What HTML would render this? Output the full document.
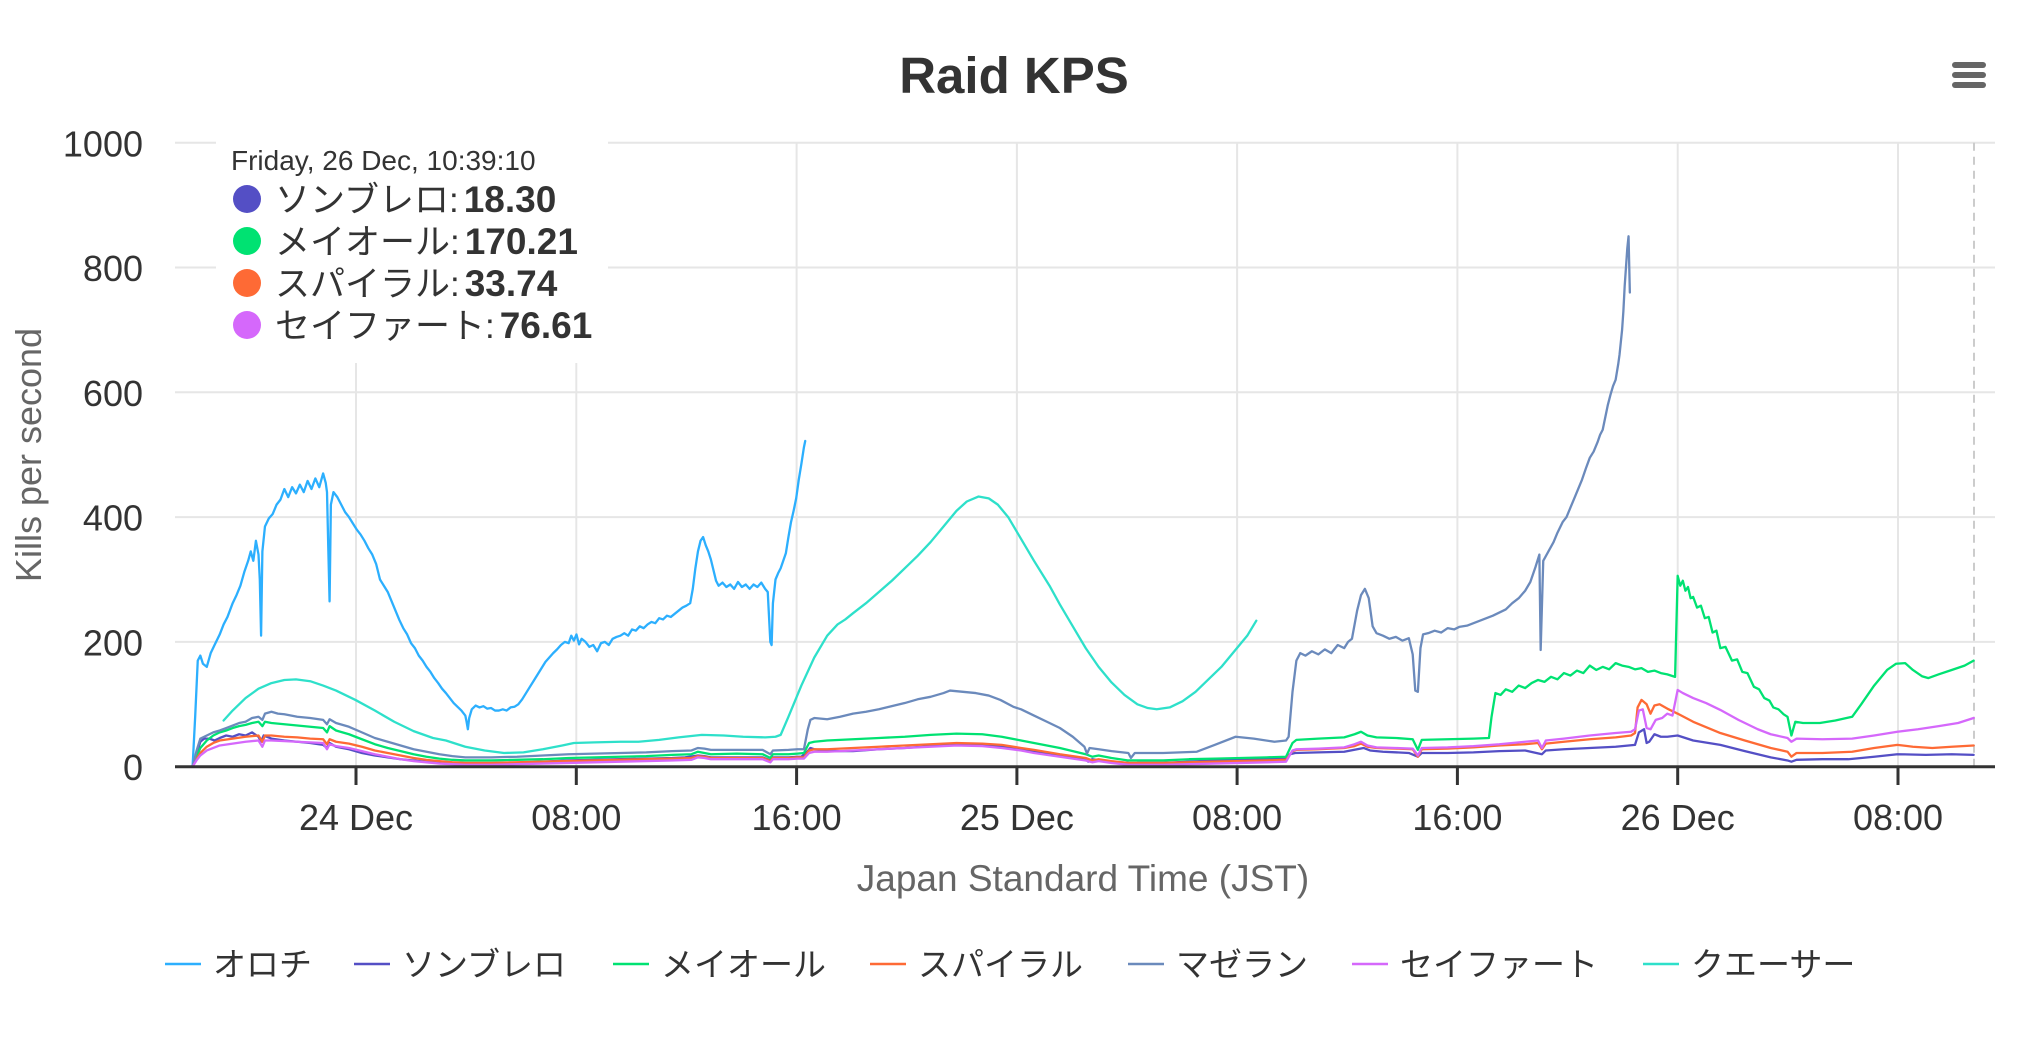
<!DOCTYPE html>
<html>
<head>
<meta charset="utf-8">
<style>
html,body{margin:0;padding:0;background:#fff;}
svg{display:block;font-family:"Liberation Sans","Noto Sans CJK JP",sans-serif;}
</style>
</head>
<body>
<svg width="2028" height="1037" viewBox="0 0 2028 1037" xmlns="http://www.w3.org/2000/svg">
<rect x="0" y="0" width="2028" height="1037" fill="#fff"/>

<!-- Title -->
<text x="1014" y="93" text-anchor="middle" font-size="51" font-weight="bold" fill="#333">Raid KPS</text>

<!-- Hamburger -->
<g stroke="#666" stroke-width="6" stroke-linecap="round">
<line x1="1955" y1="65" x2="1983" y2="65"/>
<line x1="1955" y1="75" x2="1983" y2="75"/>
<line x1="1955" y1="85" x2="1983" y2="85"/>
</g>

<!-- Horizontal gridlines -->
<g stroke="#e6e6e6" stroke-width="2">
<line x1="175" y1="142.7" x2="1995" y2="142.7"/>
<line x1="175" y1="267.5" x2="1995" y2="267.5"/>
<line x1="175" y1="392.3" x2="1995" y2="392.3"/>
<line x1="175" y1="517.1" x2="1995" y2="517.1"/>
<line x1="175" y1="641.9" x2="1995" y2="641.9"/>
<!-- Vertical gridlines -->
<line x1="356" y1="142.7" x2="356" y2="766.7"/>
<line x1="576.3" y1="142.7" x2="576.3" y2="766.7"/>
<line x1="796.6" y1="142.7" x2="796.6" y2="766.7"/>
<line x1="1016.9" y1="142.7" x2="1016.9" y2="766.7"/>
<line x1="1237.1" y1="142.7" x2="1237.1" y2="766.7"/>
<line x1="1457.4" y1="142.7" x2="1457.4" y2="766.7"/>
<line x1="1677.7" y1="142.7" x2="1677.7" y2="766.7"/>
<line x1="1898" y1="142.7" x2="1898" y2="766.7"/>
</g>

<!-- Crosshair -->
<line x1="1974" y1="142.7" x2="1974" y2="766.7" stroke="#cccccc" stroke-width="2" stroke-dasharray="8,6"/>

<!-- Y labels -->
<g font-size="36" fill="#333" text-anchor="end">
<text x="143" y="156.5">1000</text>
<text x="143" y="281">800</text>
<text x="143" y="406">600</text>
<text x="143" y="530.5">400</text>
<text x="143" y="655.5">200</text>
<text x="143" y="780">0</text>
</g>

<!-- Y axis title -->
<text transform="translate(41,455) rotate(-90)" text-anchor="middle" font-size="36" fill="#666">Kills per second</text>

<!-- Series -->
<g transform="matrix(1.2925 0 0 -0.624 0 766.7)" fill="none" stroke-linejoin="round" stroke-linecap="round">
<!-- オロチ -->
<polyline vector-effect="non-scaling-stroke" stroke="#2caffe" stroke-width="2.3" points="149,0 151,80 153,170 155,178 157,165 160,160 163,182 166,195 170,212 173,228 176,240 180,262 183,275 186,290 189,312 192,330 194,345 196,330 198,362 200,340 201,300 202,210 203,345 205,385 208,398 211,405 214,420 217,428 220,445 223,432 226,448 229,438 232,452 235,440 238,458 241,445 244,462 247,448 250,470 252,455 253,440 254,350 255,265 256,420 258,440 261,432 264,420 267,408 270,400 273,390 276,380 279,372 282,362 285,350 288,340 291,325 294,300 297,290 300,280 303,265 306,250 309,235 312,222 315,212 318,198 321,190 324,178 327,170 330,160 333,152 336,142 339,134 342,125 345,118 348,110 351,102 354,96 357,90 360,82 361,72 362,60 363,78 365,92 368,98 371,95 374,97 377,93 380,94 383,90 386,90 389,92 392,90 395,95 398,96 401,100 404,108 407,118 410,128 413,138 416,148 419,158 422,168 425,175 428,182 431,188 434,195 437,200 440,198 442,210 444,202 446,212 448,196 450,205 453,200 456,192 459,195 462,185 465,198 468,200 471,195 474,205 477,208 480,210 483,214 486,210 489,220 492,218 495,225 498,222 501,228 504,232 507,230 510,238 513,236 516,242 519,240 522,245 525,250 528,255 531,258 534,262 536,285 538,318 540,345 542,362 544,368 546,355 548,345 550,332 552,315 554,298 556,290 559,295 562,288 565,292 568,285 571,296 574,288 577,292 580,285 583,292 586,288 589,295 592,285 594,280 595,240 596,200 597,195 598,262 600,300 602,310 604,318 606,330 608,342 610,368 612,392 614,410 616,430 618,460 620,485 622,512 623,522"/>
<!-- ソンブレロ -->
<polyline vector-effect="non-scaling-stroke" stroke="#544fc5" stroke-width="2.3" points="149,0 152,20 155,40 158,45 162,45 166,42 170,46 175,50 180,48 185,52 190,50 195,55 200,48 202,40 204,50 210,45 220,42 230,40 240,38 250,35 253,30 255,38 260,32 270,28 280,22 290,18 300,15 310,12 320,10 330,8 340,6 350,5 360,5 380,5 400,6 420,8 440,10 460,11 480,12 500,13 520,14 530,15 540,18 545,17 550,15 570,15 590,15 596,10 598,15 610,15 617,16 620,16 625,25 627,30 630,28 640,25 660,25 680,28 700,30 720,33 740,35 760,34 775,32 790,27 800,24 820,18 840,12 842,8 845,12 860,8 873,6 875,3 880,6 900,6 920,8 940,10 960,12 980,12 995,13 998,20 1002,22 1020,23 1040,24 1050,28 1055,30 1060,26 1070,24 1090,22 1097,16 1100,22 1120,22 1140,23 1160,25 1180,26 1193,20 1196,26 1210,28 1230,30 1250,32 1260,34 1265,35 1268,55 1272,60 1274,38 1276,40 1280,52 1285,48 1290,48 1298,50 1310,42 1331,35 1350,25 1370,15 1383,10 1386,8 1390,11 1410,12 1430,12 1450,16 1468,20 1490,19 1510,20 1527,19"/>
<!-- メイオール -->
<polyline vector-effect="non-scaling-stroke" stroke="#00e272" stroke-width="2.3" points="149,0 152,15 155,30 160,42 165,50 170,55 175,58 180,62 185,65 190,67 195,70 200,72 203,65 205,72 210,70 220,68 230,66 240,64 250,62 253,55 255,65 260,58 270,52 280,44 290,36 300,30 310,25 320,20 330,16 340,13 350,11 360,10 380,10 400,11 420,12 440,14 460,15 480,16 500,17 520,19 535,20 540,24 545,22 550,20 570,21 590,20 596,14 598,20 610,20 617,21 622,22 626,38 630,40 640,42 660,44 680,46 700,48 720,51 740,53 760,52 775,48 790,42 800,38 820,30 840,20 845,16 850,18 860,14 873,10 880,10 900,10 920,12 940,13 960,14 980,15 995,16 1000,38 1003,43 1020,45 1040,47 1048,52 1053,56 1058,50 1065,47 1080,46 1093,44 1097,27 1100,43 1120,44 1140,45 1152,46 1154,80 1157,118 1161,115 1165,124 1170,120 1175,130 1180,126 1185,134 1190,139 1195,136 1200,144 1205,140 1210,150 1215,146 1220,154 1225,150 1230,162 1235,155 1240,160 1245,156 1250,166 1255,162 1260,160 1265,156 1270,158 1275,152 1280,154 1285,150 1290,148 1296,144 1298,306 1300,290 1302,298 1304,282 1306,288 1308,270 1310,272 1313,255 1316,258 1319,238 1322,240 1325,215 1328,218 1331,190 1335,192 1340,170 1344,172 1348,152 1352,150 1357,128 1361,124 1365,110 1369,106 1372,95 1376,92 1380,84 1383,80 1386,50 1389,72 1395,70 1408,70 1420,74 1433,80 1440,100 1450,130 1460,155 1467,165 1474,166 1480,155 1487,145 1492,142 1500,148 1510,155 1520,162 1527,170"/>
<!-- スパイラル -->
<polyline vector-effect="non-scaling-stroke" stroke="#fe6a35" stroke-width="2.3" points="149,0 152,12 155,22 160,32 165,38 170,42 180,45 190,48 200,50 203,40 205,50 210,50 220,48 230,47 240,45 250,44 253,36 255,44 260,40 270,37 280,32 290,26 300,22 310,18 320,14 330,11 340,9 350,7 360,6 380,6 400,7 420,8 440,9 460,10 480,11 500,12 520,13 535,14 540,17 545,16 550,14 570,14 590,14 596,9 598,14 610,14 617,15 622,15 626,26 630,28 640,28 660,30 680,32 700,34 720,36 740,38 760,37 775,35 790,30 800,27 820,20 840,14 845,10 850,12 860,9 873,6 880,6 900,6 920,7 940,8 960,9 980,10 995,11 1000,25 1003,27 1020,28 1040,30 1048,33 1053,37 1058,32 1065,30 1080,29 1093,28 1097,16 1100,28 1120,29 1140,31 1160,34 1180,36 1190,38 1193,28 1196,37 1210,40 1230,44 1250,47 1262,50 1265,54 1267,95 1270,107 1274,100 1277,85 1280,98 1284,100 1290,93 1298,85 1310,72 1331,54 1350,42 1370,30 1383,24 1386,16 1390,22 1410,22 1433,24 1450,30 1468,35 1480,32 1495,30 1510,32 1527,34"/>
<!-- マゼラン -->
<polyline vector-effect="non-scaling-stroke" stroke="#6b8abc" stroke-width="2.3" points="149,0 152,25 155,45 160,50 165,55 170,58 175,62 180,66 185,70 190,72 195,78 200,80 203,75 205,85 210,88 215,85 220,84 230,80 240,78 250,75 253,68 255,76 260,70 270,64 280,55 290,46 300,40 310,34 320,28 330,24 340,20 350,17 360,15 380,15 400,16 420,18 440,20 460,21 480,22 500,23 520,25 535,26 540,30 545,29 550,27 570,27 590,27 596,20 598,26 610,27 617,28 622,28 625,60 627,75 630,78 640,76 650,80 660,85 670,88 680,92 690,97 700,102 710,108 720,112 730,118 735,122 745,120 755,118 765,114 774,107 784,96 790,92 800,82 810,72 820,62 830,48 839,32 841,21 843,30 850,28 860,25 873,22 875,14 878,22 890,22 900,22 926,24 940,35 956,48 970,45 986,40 995,42 997,48 1000,120 1003,170 1006,182 1010,178 1015,185 1020,180 1025,188 1030,182 1035,195 1040,190 1043,200 1046,205 1050,250 1053,275 1056,285 1059,270 1062,225 1065,214 1070,210 1075,205 1080,208 1085,202 1090,206 1093,180 1095,122 1097,120 1099,190 1101,212 1105,214 1110,218 1115,215 1120,222 1125,220 1129,224 1135,226 1140,230 1145,234 1150,238 1155,242 1159,246 1165,252 1170,262 1175,270 1180,282 1184,296 1188,320 1191,340 1192,187 1194,330 1198,345 1202,360 1205,375 1209,392 1212,400 1215,415 1218,430 1221,445 1224,460 1227,478 1230,495 1233,505 1236,520 1238,532 1240,540 1242,560 1244,580 1246,596 1248,610 1250,620 1252,645 1253,660 1255,700 1256,730 1257,770 1258,800 1259,830 1260,850 1261,760"/>
<!-- セイファート -->
<polyline vector-effect="non-scaling-stroke" stroke="#d568fb" stroke-width="2.3" points="149,0 152,10 155,18 160,26 165,30 170,34 180,37 190,40 200,42 203,32 205,42 210,42 220,41 230,40 240,39 250,38 253,28 255,36 260,33 270,30 280,25 290,20 300,16 310,12 320,9 330,7 340,5 350,4 360,3 380,3 400,4 420,5 440,6 460,7 480,8 500,9 520,10 535,11 540,15 545,14 550,12 570,12 590,12 596,7 598,12 610,12 617,13 622,13 626,22 630,24 640,24 660,26 680,28 700,30 720,32 740,34 760,33 775,30 790,26 800,22 820,16 840,10 845,7 850,9 860,6 873,3 880,3 900,3 920,4 940,5 960,6 980,7 995,8 1000,26 1003,28 1020,29 1040,31 1048,36 1053,40 1058,34 1065,31 1080,30 1093,29 1097,18 1100,30 1120,31 1140,33 1160,36 1180,40 1190,42 1193,30 1196,42 1210,45 1230,50 1250,54 1262,56 1265,60 1268,90 1271,92 1274,62 1277,60 1281,75 1286,78 1290,85 1294,82 1298,123 1302,118 1310,110 1320,102 1331,91 1345,75 1360,60 1370,52 1383,46 1386,40 1390,45 1410,44 1433,45 1450,50 1468,56 1484,60 1500,65 1515,70 1527,78"/>
<!-- クエーサー -->
<polyline vector-effect="non-scaling-stroke" stroke="#2ee0ca" stroke-width="2.3" points="173,74 180,90 190,110 200,125 210,134 220,139 229,140 240,137 250,130 260,122 275,107 290,90 305,72 320,57 335,46 345,42 360,32 375,26 390,22 405,23 420,28 435,34 444,38 460,39 480,40 494,40 510,43 525,47 543,51 560,50 575,48 592,47 600,48 604,51 610,80 620,130 630,175 640,210 648,228 654,236 660,246 670,262 680,280 690,298 700,318 710,338 720,360 730,385 740,410 748,425 757,433 765,430 772,420 780,400 790,365 800,330 812,290 820,260 830,225 840,190 850,160 860,135 870,115 880,100 888,94 895,92 905,95 915,105 925,120 935,140 945,160 955,185 965,210 972,234"/>
</g>

<!-- X axis line and ticks -->
<line x1="175" y1="766.7" x2="1995" y2="766.7" stroke="#333" stroke-width="3"/>
<g stroke="#333" stroke-width="3">
<line x1="356" y1="766.7" x2="356" y2="785"/>
<line x1="576.3" y1="766.7" x2="576.3" y2="785"/>
<line x1="796.6" y1="766.7" x2="796.6" y2="785"/>
<line x1="1016.9" y1="766.7" x2="1016.9" y2="785"/>
<line x1="1237.1" y1="766.7" x2="1237.1" y2="785"/>
<line x1="1457.4" y1="766.7" x2="1457.4" y2="785"/>
<line x1="1677.7" y1="766.7" x2="1677.7" y2="785"/>
<line x1="1898" y1="766.7" x2="1898" y2="785"/>
</g>

<!-- X labels -->
<g font-size="36" fill="#333" text-anchor="middle">
<text x="356" y="830">24 Dec</text>
<text x="576.3" y="830">08:00</text>
<text x="796.6" y="830">16:00</text>
<text x="1016.9" y="830">25 Dec</text>
<text x="1237.1" y="830">08:00</text>
<text x="1457.4" y="830">16:00</text>
<text x="1677.7" y="830">26 Dec</text>
<text x="1898" y="830">08:00</text>
</g>

<!-- X axis title -->
<text x="1083" y="891" text-anchor="middle" font-size="37" fill="#666">Japan Standard Time (JST)</text>

<!-- Tooltip -->
<rect x="216" y="126" width="392" height="237" fill="#fff"/>
<text x="231" y="170" font-size="28" fill="#333">Friday, 26 Dec, 10:39:10</text>
<circle cx="247" cy="199" r="14" fill="#544fc5"/>
<circle cx="247" cy="241" r="14" fill="#00e272"/>
<circle cx="247" cy="283" r="14" fill="#fe6a35"/>
<circle cx="247" cy="325" r="14" fill="#d568fb"/>
<g font-size="35" fill="#333">
<text x="275" y="212">ソンブレロ:<tspan dx="5" font-weight="bold" font-size="37">18.30</tspan></text>
<text x="275" y="254">メイオール:<tspan dx="5" font-weight="bold" font-size="37">170.21</tspan></text>
<text x="275" y="296">スパイラル:<tspan dx="5" font-weight="bold" font-size="37">33.74</tspan></text>
<text x="275" y="338">セイファート:<tspan dx="5" font-weight="bold" font-size="37">76.61</tspan></text>
</g>

<!-- Legend -->
<g stroke-width="2.6">
<line x1="165" y1="964" x2="201" y2="964" stroke="#2caffe"/>
<line x1="354" y1="964" x2="390" y2="964" stroke="#544fc5"/>
<line x1="613" y1="964" x2="649" y2="964" stroke="#00e272"/>
<line x1="870" y1="964" x2="906" y2="964" stroke="#fe6a35"/>
<line x1="1128" y1="964" x2="1164" y2="964" stroke="#6b8abc"/>
<line x1="1352" y1="964" x2="1388" y2="964" stroke="#d568fb"/>
<line x1="1643" y1="964" x2="1679" y2="964" stroke="#2ee0ca"/>
</g>
<g font-size="33" fill="#333">
<text x="213" y="976">オロチ</text>
<text x="402" y="976">ソンブレロ</text>
<text x="661" y="976">メイオール</text>
<text x="918" y="976">スパイラル</text>
<text x="1176" y="976">マゼラン</text>
<text x="1400" y="976">セイファート</text>
<text x="1691" y="976">クエーサー</text>
</g>
</svg>
</body>
</html>
